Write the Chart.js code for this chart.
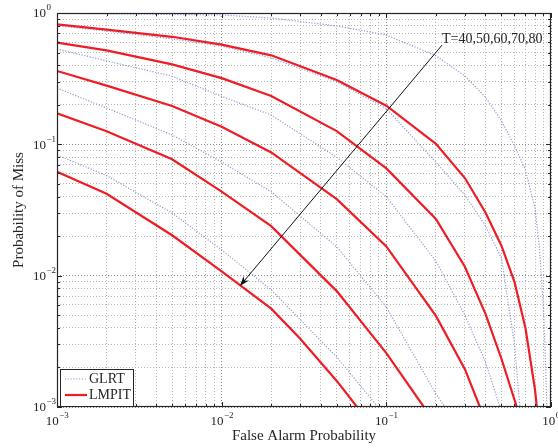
<!DOCTYPE html>
<html>
<head>
<meta charset="utf-8">
<script src="https://cdn.jsdelivr.net/npm/chart.js@4.4.0/dist/chart.umd.min.js"></script>
<style>
    html, body { margin: 0; padding: 0; background: #fff; }
</style>
</head>
<body>
<canvas id="roc" width="558" height="448"></canvas>
<script>
// Values (Pfa -> Pmiss)
const lmpit40Pfa = [0.001, 0.002, 0.005, 0.01, 0.02, 0.05, 0.1, 0.2, 0.3, 0.4, 0.5, 0.6, 0.7, 0.8, 0.82];
const lmpit40Pm  = [0.82, 0.746, 0.659, 0.575, 0.476, 0.309, 0.197, 0.101, 0.0554, 0.0303, 0.0169, 0.00897, 0.00398, 0.00135, 0.001];

const lmpit50Pfa = [0.001, 0.002, 0.005, 0.01, 0.02, 0.05, 0.1, 0.2, 0.3, 0.4, 0.5, 0.62];
const lmpit50Pm  = [0.594, 0.519, 0.406, 0.319, 0.233, 0.126, 0.0656, 0.027, 0.0117, 0.00512, 0.00233, 0.001];

const lmpit60Pfa = [0.001, 0.002, 0.005, 0.01, 0.02, 0.05, 0.1, 0.2, 0.3, 0.37];
const lmpit60Pm  = [0.362, 0.28, 0.196, 0.136, 0.0867, 0.0382, 0.0167, 0.00494, 0.00194, 0.001];

const lmpit70Pfa = [0.001, 0.002, 0.005, 0.01, 0.02, 0.05, 0.1, 0.169];
const lmpit70Pm  = [0.172, 0.126, 0.0769, 0.0436, 0.0238, 0.00763, 0.00257, 0.001];

const lmpit80Pfa = [0.001, 0.002, 0.005, 0.01, 0.02, 0.03, 0.05, 0.0664];
const lmpit80Pm  = [0.0618, 0.042, 0.0203, 0.0108, 0.00561, 0.00331, 0.00158, 0.001];

const glrt40Pfa = [0.001, 0.01, 0.02, 0.05, 0.1, 0.2, 0.3, 0.4, 0.5, 0.6, 0.7, 0.8, 0.85, 0.9, 0.92, 0.944];
const glrt40Pm  = [0.995, 0.966, 0.916, 0.797, 0.68, 0.473, 0.331, 0.229, 0.151, 0.098, 0.0637, 0.0327, 0.0165, 0.00566, 0.0028, 0.001];

const glrt50Pfa = [0.001, 0.002, 0.005, 0.01, 0.02, 0.05, 0.1, 0.2, 0.3, 0.4, 0.5, 0.6, 0.647];
const glrt50Pm  = [0.80, 0.73, 0.635, 0.56, 0.455, 0.30, 0.187, 0.073, 0.0411, 0.0239, 0.0136, 0.003, 0.001];

const glrt60Pfa = [0.001, 0.002, 0.005, 0.01, 0.02, 0.05, 0.1, 0.2, 0.3, 0.4, 0.49];
const glrt60Pm  = [0.532, 0.432, 0.33, 0.232, 0.167, 0.0796, 0.04, 0.0129, 0.005, 0.0022, 0.001];

const glrt70Pfa = [0.001, 0.002, 0.005, 0.01, 0.02, 0.05, 0.1, 0.2, 0.227];
const glrt70Pm  = [0.268, 0.189, 0.118, 0.0733, 0.0435, 0.0166, 0.00577, 0.00126, 0.001];

const glrt80Pfa = [0.001, 0.002, 0.005, 0.01, 0.02, 0.05, 0.0889];
const glrt80Pm  = [0.083, 0.0578, 0.03, 0.0157, 0.0078, 0.0024, 0.001];

// Axis decades and the annotation arrow (data coordinates)
const decadeExps = [-3, -2, -1, 0];
const arrowTail = { pfa: 0.218, pm: 0.57 };
const arrowTip  = { pfa: 0.0129, pm: 0.00834 };
const arrowText = 'T=40,50,60,70,80';

const RED = '#ee1d25';
const BLUE = '#8e9bd3';
const INK = '#262626';
const SERIF = "'Liberation Serif', 'Times New Roman', serif";

// 1..9 x 10^k grid values for the log axes
const gridValues = [];
decadeExps.forEach(e => {
    if (e === 0) { gridValues.push(1); return; }
    for (let m = 1; m <= 9; m++) gridValues.push(+(m * Math.pow(10, e)).toPrecision(3));
});
const isMajor = v => Math.abs(Math.log10(v) - Math.round(Math.log10(v))) < 1e-9;

function points(pfa, pm) {
    return pfa.map((x, i) => ({ x: x, y: pm[i] }));
}

function lmpit(pfa, pm) {
    return { label: 'LMPIT', data: points(pfa, pm), borderColor: RED, borderWidth: 2.2 };
}

function glrt(pfa, pm) {
    return { label: 'GLRT', data: points(pfa, pm), borderColor: BLUE, borderWidth: 1.2, borderDash: [1.2, 1.6] };
}

/**
 * Draw "10" with a superscript exponent
 */
function drawPow(ctx, exp, x, y, align) {
    ctx.font = '13px ' + SERIF;
    const wb = ctx.measureText('10').width;
    ctx.font = '9px ' + SERIF;
    const es = exp < 0 ? '\u2212' + (-exp) : String(exp);
    const we = ctx.measureText(es).width;
    let x0 = x;
    if (align === 'center') x0 = x - (wb + we) / 2;
    ctx.textAlign = 'left';
    ctx.textBaseline = 'middle';
    ctx.font = '13px ' + SERIF;
    ctx.fillText('10', x0, y);
    ctx.font = '9px ' + SERIF;
    ctx.fillText(es, x0 + wb + 0.5, y - 6);
}

const decorPlugin = {
    id: 'decor',
    afterDraw(chart) {
        const ctx = chart.ctx;
        const a = chart.chartArea;
        const xs = chart.scales.x, ys = chart.scales.y;
        ctx.save();

        // inward ticks on all four sides
        ctx.strokeStyle = INK;
        ctx.lineWidth = 1;
        ctx.beginPath();
        gridValues.forEach(v => {
            const len = isMajor(v) ? 5 : 3;
            const px = Math.round(xs.getPixelForValue(v)) + 0.5;
            ctx.moveTo(px, a.bottom); ctx.lineTo(px, a.bottom - len);
            ctx.moveTo(px, a.top); ctx.lineTo(px, a.top + len);
            const py = Math.round(ys.getPixelForValue(v)) + 0.5;
            ctx.moveTo(a.left, py); ctx.lineTo(a.left + len, py);
            ctx.moveTo(a.right, py); ctx.lineTo(a.right - len, py);
        });
        ctx.stroke();

        // axes box
        ctx.lineWidth = 1.2;
        ctx.strokeRect(a.left + 0.5, a.top + 0.5, a.right - a.left - 1, a.bottom - a.top - 1);

        // tick labels
        ctx.fillStyle = INK;
        decadeExps.forEach(e => {
            const v = Math.pow(10, e);
            drawPow(ctx, e, xs.getPixelForValue(v), a.bottom + 15, 'center');
            drawPow(ctx, e, 33, ys.getPixelForValue(v) + 1, 'left');
        });

        // axis titles
        ctx.font = '15px ' + SERIF;
        ctx.textAlign = 'center';
        ctx.textBaseline = 'middle';
        ctx.fillText('False Alarm Probability', (a.left + a.right) / 2, 436);
        ctx.save();
        ctx.translate(19, (a.top + a.bottom) / 2);
        ctx.rotate(-Math.PI / 2);
        ctx.fillText('Probability of Miss', 0, 0);
        ctx.restore();

        // annotation arrow
        const x1 = xs.getPixelForValue(arrowTail.pfa), y1 = ys.getPixelForValue(arrowTail.pm);
        const x2 = xs.getPixelForValue(arrowTip.pfa), y2 = ys.getPixelForValue(arrowTip.pm);
        const ang = Math.atan2(y2 - y1, x2 - x1);
        const ux = Math.cos(ang), uy = Math.sin(ang);
        ctx.strokeStyle = '#111';
        ctx.fillStyle = '#111';
        ctx.lineWidth = 1;
        ctx.beginPath();
        ctx.moveTo(x1, y1);
        ctx.lineTo(x2 - 6 * ux, y2 - 6 * uy);
        ctx.stroke();
        const bx = x2 - 10 * ux, by = y2 - 10 * uy;
        ctx.beginPath();
        ctx.moveTo(x2, y2);
        ctx.lineTo(bx - 3.5 * uy, by + 3.5 * ux);
        ctx.lineTo(x2 - 7 * ux, y2 - 7 * uy);
        ctx.lineTo(bx + 3.5 * uy, by - 3.5 * ux);
        ctx.closePath();
        ctx.fill();

        ctx.fillStyle = INK;
        ctx.font = '14px ' + SERIF;
        ctx.textAlign = 'left';
        ctx.textBaseline = 'alphabetic';
        ctx.fillText(arrowText, x1, y1 - 2);

        // legend box (bottom left, inside axes)
        const lx = a.left + 3, ly = a.bottom - 38, lw = 73, lh = 37;
        ctx.fillStyle = '#fff';
        ctx.fillRect(lx, ly, lw, lh);
        ctx.strokeStyle = INK;
        ctx.lineWidth = 1;
        ctx.strokeRect(lx + 0.5, ly + 0.5, lw, lh);

        ctx.strokeStyle = BLUE;
        ctx.lineWidth = 1.2;
        ctx.setLineDash([1.2, 1.6]);
        ctx.beginPath();
        ctx.moveTo(lx + 5, ly + 10); ctx.lineTo(lx + 27, ly + 10);
        ctx.stroke();
        ctx.setLineDash([]);
        ctx.strokeStyle = RED;
        ctx.lineWidth = 2.2;
        ctx.beginPath();
        ctx.moveTo(lx + 5, ly + 26); ctx.lineTo(lx + 27, ly + 26);
        ctx.stroke();

        ctx.fillStyle = INK;
        ctx.font = '14px ' + SERIF;
        ctx.textBaseline = 'middle';
        ctx.fillText('GLRT', lx + 29, ly + 10);
        ctx.fillText('LMPIT', lx + 29, ly + 26);

        ctx.restore();
    }
};

function logAxis() {
    return {
        type: 'logarithmic',
        min: 0.001,
        max: 1,
        afterBuildTicks: scale => {
            scale.ticks = gridValues.map(v => ({ value: v, major: isMajor(v) }));
        },
        ticks: { display: false },
        grid: {
            drawTicks: false,
            lineWidth: 1,
            color: c => (c.tick && isMajor(c.tick.value)) ? '#8a8a8a' : '#b4b4b4'
        },
        border: { display: false, dash: [1, 2] }
    };
}

new Chart(document.getElementById('roc'), {
    type: 'line',
    data: {
        datasets: [
            lmpit(lmpit40Pfa, lmpit40Pm),
            lmpit(lmpit50Pfa, lmpit50Pm),
            lmpit(lmpit60Pfa, lmpit60Pm),
            lmpit(lmpit70Pfa, lmpit70Pm),
            lmpit(lmpit80Pfa, lmpit80Pm),
            glrt(glrt40Pfa, glrt40Pm),
            glrt(glrt50Pfa, glrt50Pm),
            glrt(glrt60Pfa, glrt60Pm),
            glrt(glrt70Pfa, glrt70Pm),
            glrt(glrt80Pfa, glrt80Pm)
        ]
    },
    options: {
        responsive: false,
        animation: false,
        devicePixelRatio: 1,
        layout: { padding: { left: 57, top: 13, right: 7, bottom: 41 } },
        elements: {
            point: { radius: 0 },
            line: { tension: 0, fill: false }
        },
        plugins: {
            legend: { display: false },
            tooltip: { enabled: false }
        },
        scales: {
            x: logAxis(),
            y: logAxis()
        }
    },
    plugins: [decorPlugin]
});
</script>
</body>
</html>
